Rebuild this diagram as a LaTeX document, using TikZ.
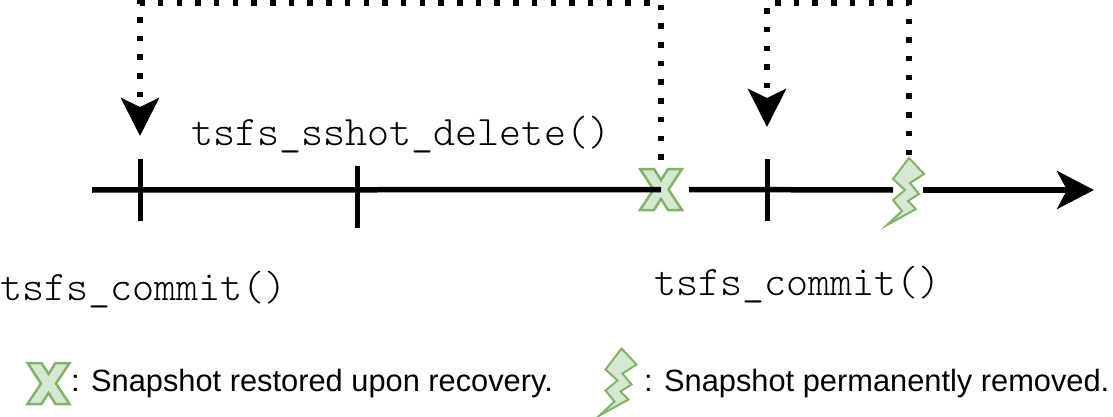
\documentclass[tikz,border=0pt]{standalone}
\usepackage{fontspec}
\setmainfont{Liberation Sans}
\setmonofont{Latin Modern Mono Light}
\usetikzlibrary{arrows.meta}

\definecolor{markfill}{HTML}{D5E8D4}
\definecolor{markline}{HTML}{82B366}

\tikzset{
  pics/restored/.style={code={
    \node[inner sep=0, minimum width=42pt, minimum height=41pt] (-box) {};
    \draw[markline, fill=markfill, line width=2.5pt, line join=miter]
      (-21,-20.5) -- (-7,-20.5) -- (0,-9.5) -- (7,-20.5) -- (21,-20.5)
      -- (7.5,0) -- (21,20.5) -- (7,20.5) -- (0,9.5) -- (-7,20.5)
      -- (-21,20.5) -- (-7.5,0) -- cycle;
  }},
  pics/removed/.style={code={
    \node[inner sep=0, minimum width=37pt, minimum height=67pt] (-box) {};
    \coordinate (-tip) at (3.5,-33.5);
    \draw[markline, fill=markfill, line width=2pt, line join=miter]
      (3.5,-33.5) -- (18.5,-17.5) -- (4.5,-8.5) -- (13.5,2.5) -- (2.5,9.5)
      -- (10.5,17.5) -- (-18.5,33.5) -- (-3.5,19.5) -- (-12.5,8.5)
      -- (-0.5,-1.5) -- (-12.5,-12.5) -- cycle;
  }}
}

\begin{document}
\begin{tikzpicture}[x=1pt, y=-1pt,
    timeline/.style={line width=5.5pt},
    tickmark/.style={line width=5pt},
    recover/.style={line width=5.5pt, dash pattern=on 5.5pt off 13.2pt,
      -{Stealth[length=38pt, width=38pt, inset=9pt]}},
    call/.style={inner sep=0, anchor=base west, font=\ttfamily\fontsize{42}{46}\selectfont},
    legend/.style={inner sep=0, anchor=base west, font=\fontsize{30.8}{36}\selectfont}]
  \useasboundingbox (0,0) rectangle (1113,417);

  \coordinate (start) at (92,190);
  \coordinate (end) at (1094,190);
  \coordinate (top) at (0,3);
  \coordinate (commitA) at (140,159);
  \coordinate (commitB) at (767,159);

  % ticks on the time line
  \foreach \x/\y in {140/190, 357/196.5, 767/190} {
      \draw[tickmark] (\x, \y-31) -- (\x, \y+31);
  }

  \pic (rest) at (661,189.5) {restored};
  \draw[timeline] (start) -- (rest-box.center);
  \draw[timeline] ([xshift=7pt]rest-box.east) -- (893,190);
  \pic (gone) at (905.5,191.5) {removed};
  \draw[timeline, -{Stealth[length=37pt, width=38pt, inset=10pt]}]
    ([xshift=-1pt]gone-box.east |- end) -- (end);

  \draw[recover] ([yshift=9pt]rest-box.north) -- (rest-box.north |- top) -| ([yshift=23pt]commitA);
  \draw[recover] ([yshift=3pt]gone-tip) -- (gone-tip |- top) -| ([yshift=32pt]commitB);

  \node[call] (delete) at (191,146) {tsfs\_sshot\_delete()};
  \node[call] (commitlabelA) at (0,300) {tsfs\_commit()};
  \node[call] (commitlabelB) at (654,295) {tsfs\_commit()};

  % legend
  \pic (keyrest) at (48.5,383.5) {restored};
  \node[legend] (keyresttext) at (71,391) {: Snapshot restored upon recovery.};
  \pic (keygone) at (618,382) {removed};
  \node[legend] (keygonetext) at (644,391) {: Snapshot permanently removed.};
\end{tikzpicture}
\end{document}
